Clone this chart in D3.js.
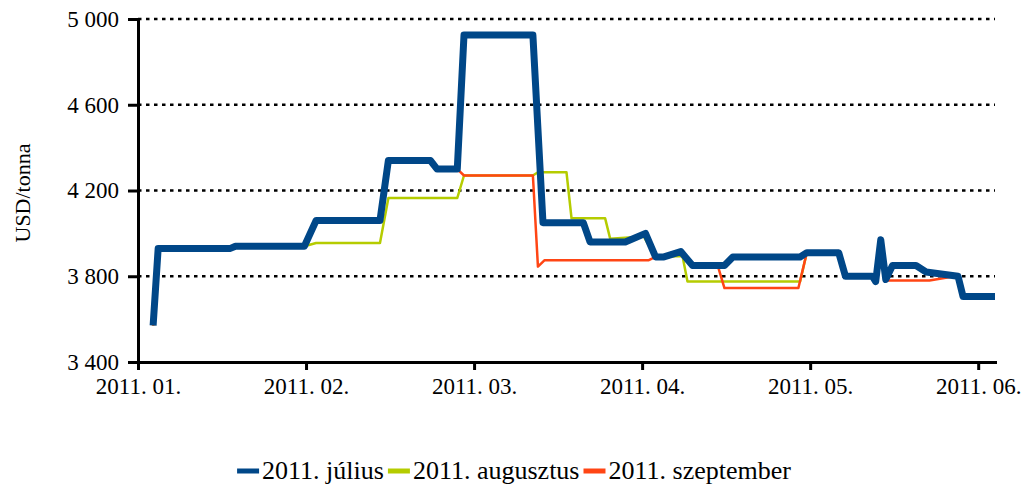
<!DOCTYPE html>
<html lang="hu">
<head>
<meta charset="utf-8">
<title>USD/tonna</title>
<script src="https://cdn.jsdelivr.net/npm/d3@7"></script>
<style>
  body { margin: 0; background: #fff; }
  svg { display: block; }
  svg text { font-family: "Liberation Serif", "Times New Roman", serif !important; fill: #000; }
  .axis text { font-size: 23px; }
  .axis path, .axis line { stroke: #000; stroke-width: 3; }
</style>
</head>
<body>
<svg></svg>
<script>
// tick labels
var months = ["2011. 01.", "2011. 02.", "2011. 03.", "2011. 04.", "2011. 05.", "2011. 06."];
var yTicks = [3400, 3800, 4200, 4600, 5000];
var names = ["2011. július", "2011. augusztus", "2011. szeptember"];

// x = months since 2011.01., y = USD/tonna
var julX = [0.09, 0.12, 0.55, 0.58, 0.99, 1.06, 1.44, 1.49, 1.74, 1.78, 1.90, 1.94, 2.35, 2.41, 2.65, 2.69, 2.90, 3.02, 3.08, 3.13, 3.23, 3.30, 3.49, 3.54, 3.94, 3.98, 4.17, 4.21, 4.37, 4.39, 4.42, 4.45, 4.49, 4.63, 4.69, 4.88, 4.91, 5.10];
var julY = [3570, 3930, 3930, 3940, 3940, 4060, 4060, 4340, 4340, 4300, 4300, 4925, 4925, 4050, 4050, 3960, 3960, 4000, 3890, 3890, 3915, 3850, 3850, 3890, 3890, 3910, 3910, 3800, 3800, 3775, 3970, 3785, 3850, 3850, 3820, 3800, 3705, 3705];

var augX = [0.09, 0.12, 0.55, 0.58, 0.99, 1.06, 1.44, 1.49, 1.90, 1.94, 2.35, 2.38, 2.55, 2.58, 2.78, 2.81, 3.01, 3.08, 3.24, 3.27, 3.94, 3.98, 4.17, 4.21, 4.37, 4.39, 4.42, 4.45, 4.49, 4.63, 4.69, 4.88, 4.91, 5.10];
var augY = [3570, 3930, 3930, 3940, 3940, 3955, 3955, 4165, 4165, 4270, 4270, 4285, 4285, 4070, 4070, 3975, 3985, 3890, 3895, 3775, 3775, 3910, 3910, 3800, 3800, 3775, 3970, 3785, 3850, 3850, 3820, 3800, 3705, 3705];

var szeX = [0.09, 0.12, 0.55, 0.58, 0.99, 1.06, 1.44, 1.49, 1.74, 1.78, 1.90, 1.94, 2.35, 2.38, 2.42, 3.04, 3.08, 3.13, 3.23, 3.30, 3.45, 3.49, 3.93, 3.98, 4.17, 4.21, 4.37, 4.39, 4.42, 4.45, 4.71, 4.86, 4.88, 4.91, 5.10];
var szeY = [3570, 3930, 3930, 3940, 3940, 4060, 4060, 4340, 4340, 4300, 4300, 4270, 4270, 3845, 3875, 3875, 3890, 3890, 3915, 3850, 3850, 3745, 3745, 3910, 3910, 3800, 3800, 3775, 3970, 3780, 3780, 3800, 3800, 3705, 3705];

var colors = ["#004788", "#b5cc00", "#ff4514"];
var widths = [7, 2.5, 2.5];

var width = 1032, height = 490;
var svg = d3.select("svg").attr("width", width).attr("height", height);

var x = d3.scaleLinear().domain([0, 5.1]).range([138, 995]);
var y = d3.scaleLinear().domain([3400, 5000]).range([362, 19]);

var fmt = function(d){ return d3.format(",")(d).replace(",", " "); };

// gridlines
svg.append("g").selectAll("line")
  .data(yTicks.slice(1))
  .enter().append("line")
  .attr("x1", x(0)).attr("x2", x(5.1))
  .attr("y1", function(d){ return y(d); })
  .attr("y2", function(d){ return y(d); })
  .attr("stroke", "#000")
  .attr("stroke-width", 2.5)
  .attr("stroke-dasharray", "3.5,4.5");

// lines
var line = d3.line()
  .x(function(d){ return x(d[0]); })
  .y(function(d){ return y(d[1]); });

var series = [
  d3.zip(augX, augY),
  d3.zip(szeX, szeY),
  d3.zip(julX, julY)
];
var order = [1, 2, 0];
series.forEach(function(s, i){
  var k = order[i];
  svg.append("path")
    .datum(s)
    .attr("d", line)
    .attr("fill", "none")
    .attr("stroke", colors[k])
    .attr("stroke-width", widths[k])
    .attr("stroke-linejoin", "round");
});

// axes
svg.append("g")
  .attr("class", "axis")
  .attr("transform", "translate(" + x(0) + ",0)")
  .call(d3.axisLeft(y).tickValues(yTicks).tickFormat(fmt).tickSize(10).tickSizeOuter(0).tickPadding(9))
  .attr("font-family", null);

svg.append("g")
  .attr("class", "axis")
  .attr("transform", "translate(0," + y(3400) + ")")
  .call(d3.axisBottom(x).tickValues(d3.range(6)).tickFormat(function(d){ return months[d]; }).tickSize(8).tickSizeOuter(0).tickPadding(8))
  .attr("font-family", null);

svg.selectAll(".axis .domain").attr("stroke-linecap", "square");

// y title
svg.append("text")
  .attr("transform", "translate(30,193) rotate(-90)")
  .attr("text-anchor", "middle")
  .style("font-size", "22px")
  .text("USD/tonna");

// legend
var legend = svg.append("g");
var lx = 0;
names.forEach(function(n, i){
  var g = legend.append("g").attr("transform", "translate(" + lx + ",0)");
  g.append("line").attr("x1", 0).attr("x2", 22).attr("y1", 0).attr("y2", 0)
    .attr("stroke", colors[i]).attr("stroke-width", 5);
  var t = g.append("text").attr("x", 25).attr("y", 8).style("font-size", "26px").text(n);
  lx += 25 + t.node().getComputedTextLength() + 4;
});
legend.attr("transform", "translate(" + (516 - lx / 2) + ",471)");
</script>
</body>
</html>
